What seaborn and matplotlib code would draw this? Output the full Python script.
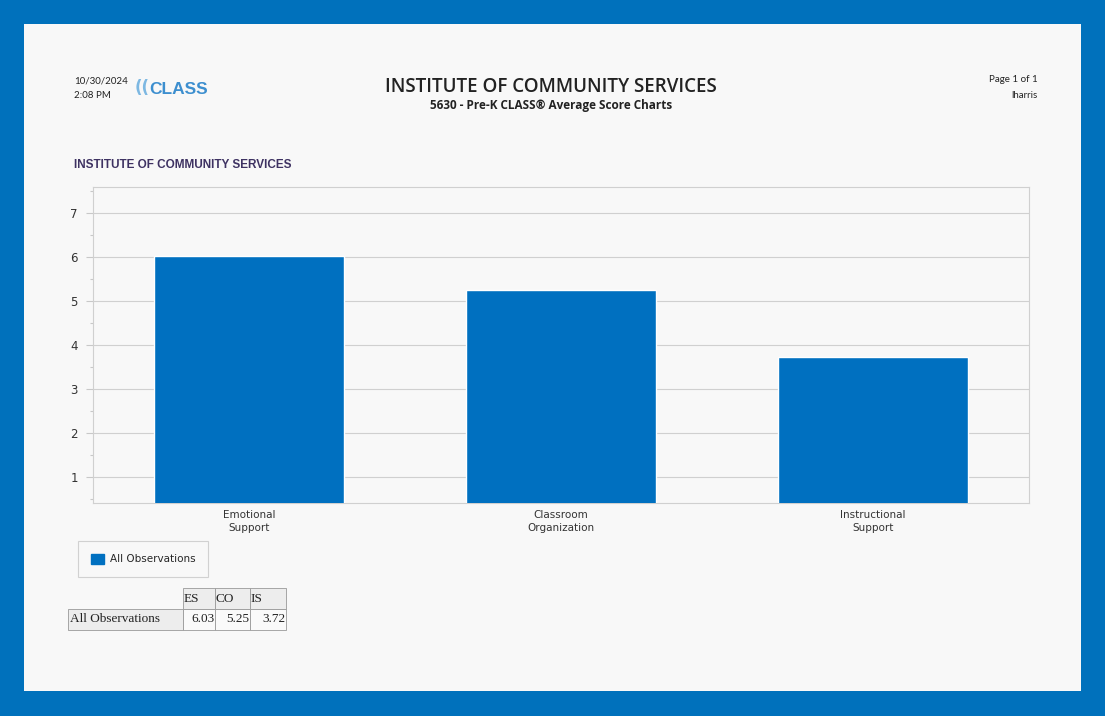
import matplotlib
matplotlib.use("Agg")
import matplotlib.pyplot as plt
import seaborn as sns
import pandas as pd
from matplotlib.patches import Rectangle, Patch
from matplotlib.ticker import MultipleLocator

categories = ["Emotional\nSupport", "Classroom\nOrganization", "Instructional\nSupport"]
abbrevs = ["ES", "CO", "IS"]
values = [6.03, 5.25, 3.72]
series_name = "All Observations"

W, H = 1105, 716
BLUE = "#0070C0"
PAGE = "#F8F8F8"

sns.set_theme(style="white")
plt.rcParams["font.family"] = ["DejaVu Sans"]

fig = plt.figure(figsize=(W / 100, H / 100), dpi=100)
fig.patch.set_facecolor("#0071BC")

def fx(x): return x / W
def fy(y): return 1 - y / H

fig.patches.append(Rectangle((fx(24), fy(691)), (1081 - 24) / W, (691 - 24) / H,
                             transform=fig.transFigure, facecolor=PAGE, edgecolor="none", zorder=-5))

# header texts
fig.text(fx(74), fy(81), "10/30/2024", fontsize=7, family="Lato", va="center", color="#222222")
fig.text(fx(74), fy(96), "2:08 PM", fontsize=7, family="Lato", va="center", color="#222222")
fig.text(fx(135), fy(88), "((", fontsize=12, fontweight="bold", color="#7DB8E2", va="center", family="DejaVu Sans")
fig.text(fx(149), fy(89), "CLASS", fontsize=12.5, fontweight="bold", color="#3D8FCF", va="center",
         family="Liberation Sans")
fig.text(fx(551), fy(87), "INSTITUTE OF COMMUNITY SERVICES", fontsize=13.5, ha="center", va="center",
         family="Open Sans", fontweight="semibold", color="#222222")
fig.text(fx(551), fy(106), "5630 - Pre-K CLASS\u00ae Average Score Charts", fontsize=8.5, ha="center",
         va="center", family="Open Sans", fontweight="bold", color="#222222")
fig.text(fx(1038), fy(80), "Page 1 of 1", fontsize=7, ha="right", va="center", family="Lato", color="#222222")
fig.text(fx(1038), fy(96), "lharris", fontsize=7, ha="right", va="center", family="Lato", color="#222222")
fig.text(fx(74), fy(165), "INSTITUTE OF COMMUNITY SERVICES", fontsize=8.5, fontweight="bold", va="center",
         family="Liberation Sans", color="#3E3262")

# chart
ax = fig.add_axes([fx(93), fy(503), (1029 - 93) / W, (503 - 187) / H])
df = pd.DataFrame({"category": categories, "value": values})
sns.barplot(data=df, x="category", y="value", color=BLUE, saturation=1, width=0.606, ax=ax, zorder=3)
ax.set_facecolor(PAGE)
ax.set_xlim(-0.5, 2.5)
ax.set_ylim(0.41, 7.59)
ax.yaxis.set_major_locator(MultipleLocator(1))
ax.yaxis.set_minor_locator(MultipleLocator(0.5))
ax.set_yticks([1, 2, 3, 4, 5, 6, 7])
ax.grid(axis="y", which="major", color="#D0D0D0", linewidth=0.8, zorder=0)
ax.set_axisbelow(True)
ax.set_xlabel("")
ax.set_ylabel("")
for s in ax.spines.values():
    s.set_color("#D0D0D0")
    s.set_linewidth(0.8)
ax.tick_params(axis="y", which="major", left=True, length=5, width=0.8, color="#C8C8C8", labelsize=8.5,
               labelcolor="#333333", pad=6)
ax.tick_params(axis="y", which="minor", left=True, length=2, width=0.8, color="#C8C8C8")
ax.tick_params(axis="x", bottom=False, labelsize=7.5, labelcolor="#333333", pad=-1)
for lbl in ax.get_xticklabels():
    lbl.set_linespacing(1.35)

# legend
leg = fig.legend(handles=[Patch(facecolor=BLUE, edgecolor=BLUE, label=series_name)],
                 loc="center left", bbox_to_anchor=(fx(78), fy(559)), frameon=True, fancybox=False,
                 fontsize=7.5, handlelength=1.3, handleheight=1.2, borderpad=1.2, handletextpad=0.6,
                 borderaxespad=0)
leg.get_frame().set_edgecolor("#C8C8C8")
leg.get_frame().set_facecolor(PAGE)
leg.get_frame().set_linewidth(0.8)

# data table
tax = fig.add_axes([fx(68), fy(630), (286 - 68) / W, (630 - 588) / H])
tax.axis("off")
cell_text = [[""] + abbrevs, [series_name] + [f"{v:.2f}" for v in values]]
tbl = tax.table(cellText=cell_text, bbox=[0, 0, 1, 1], cellLoc="left")
tbl.auto_set_font_size(False)
col_w = [115, 32, 35, 36]
tot = sum(col_w)
for (r, c), cell in tbl.get_celld().items():
    cell.set_width(col_w[c] / tot)
    cell.set_linewidth(0.6)
    cell.set_edgecolor("#999999")
    cell.get_text().set_fontsize(9.5)
    cell.get_text().set_family("Liberation Serif")
    cell.get_text().set_color("#222222")
    cell.PAD = 0.02
    if r == 0 and c == 0:
        cell.set_edgecolor(PAGE)
        cell.set_facecolor(PAGE)
        cell.visible_edges = ""
    elif r == 0 or c == 0:
        cell.set_facecolor("#EDEDED")
    else:
        cell.set_facecolor("#FAFAFA")
        cell.get_text().set_horizontalalignment("right")
        cell._loc = "right"

fig.savefig("out.png", dpi=100, facecolor=fig.get_facecolor())
